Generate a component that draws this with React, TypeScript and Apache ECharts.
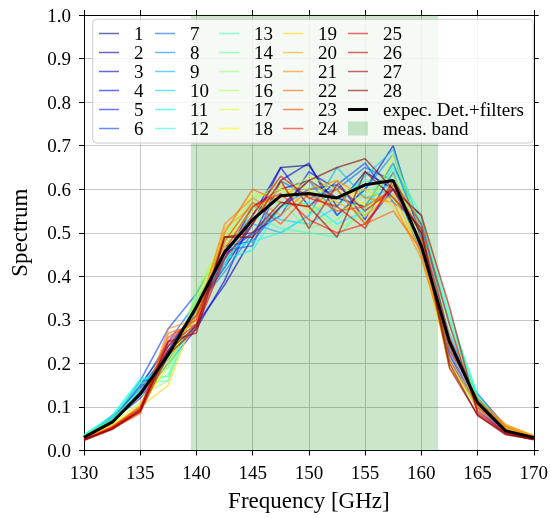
import React, { useEffect, useRef } from "react";
import * as echarts from "echarts";

const freqs = [130, 132.5, 135, 137.5, 140, 142.5, 145, 147.5, 150, 152.5, 155, 157.5, 160, 162.5, 165, 167.5, 170];

const expec = [0.030, 0.065, 0.130, 0.220, 0.330, 0.455, 0.530, 0.585, 0.590, 0.580, 0.610, 0.620, 0.470, 0.250, 0.110, 0.045, 0.030];

const s1 = [0.032, 0.075, 0.140, 0.230, 0.330, 0.420, 0.520, 0.650, 0.655, 0.560, 0.640, 0.600, 0.540, 0.250, 0.120, 0.050, 0.030];
const s2 = [0.030, 0.070, 0.150, 0.240, 0.320, 0.440, 0.560, 0.600, 0.620, 0.580, 0.560, 0.660, 0.500, 0.230, 0.130, 0.055, 0.030];
const s3 = [0.028, 0.080, 0.125, 0.210, 0.290, 0.380, 0.490, 0.620, 0.660, 0.540, 0.600, 0.700, 0.480, 0.220, 0.100, 0.045, 0.028];
const s4 = [0.030, 0.068, 0.120, 0.200, 0.280, 0.390, 0.540, 0.650, 0.560, 0.620, 0.530, 0.640, 0.460, 0.210, 0.095, 0.040, 0.030];
const s5 = [0.032, 0.060, 0.135, 0.225, 0.310, 0.450, 0.500, 0.540, 0.640, 0.600, 0.520, 0.600, 0.500, 0.240, 0.110, 0.050, 0.032];
const s6 = [0.030, 0.065, 0.160, 0.280, 0.360, 0.470, 0.480, 0.560, 0.600, 0.610, 0.660, 0.570, 0.520, 0.260, 0.120, 0.048, 0.030];
const s7 = [0.034, 0.070, 0.145, 0.250, 0.340, 0.460, 0.470, 0.620, 0.580, 0.600, 0.650, 0.620, 0.450, 0.230, 0.100, 0.045, 0.030];
const s8 = [0.030, 0.072, 0.130, 0.230, 0.330, 0.410, 0.500, 0.560, 0.620, 0.540, 0.600, 0.680, 0.490, 0.250, 0.105, 0.050, 0.030];
const s9 = [0.032, 0.075, 0.150, 0.210, 0.320, 0.430, 0.520, 0.500, 0.540, 0.650, 0.580, 0.600, 0.470, 0.270, 0.115, 0.045, 0.030];
const s10 = [0.035, 0.070, 0.140, 0.200, 0.350, 0.420, 0.560, 0.530, 0.520, 0.560, 0.630, 0.690, 0.510, 0.290, 0.120, 0.050, 0.030];
const s11 = [0.036, 0.078, 0.160, 0.190, 0.330, 0.440, 0.460, 0.560, 0.570, 0.520, 0.550, 0.650, 0.520, 0.300, 0.130, 0.048, 0.032];
const s12 = [0.036, 0.080, 0.165, 0.170, 0.310, 0.460, 0.480, 0.500, 0.540, 0.580, 0.620, 0.600, 0.530, 0.310, 0.125, 0.050, 0.030];
const s13 = [0.036, 0.074, 0.155, 0.160, 0.340, 0.450, 0.540, 0.510, 0.500, 0.490, 0.560, 0.660, 0.540, 0.320, 0.120, 0.055, 0.032];
const s14 = [0.034, 0.070, 0.140, 0.175, 0.360, 0.470, 0.560, 0.570, 0.510, 0.530, 0.590, 0.630, 0.520, 0.300, 0.110, 0.050, 0.030];
const s15 = [0.032, 0.066, 0.125, 0.160, 0.370, 0.480, 0.580, 0.600, 0.560, 0.510, 0.540, 0.620, 0.500, 0.280, 0.115, 0.045, 0.030];
const s16 = [0.030, 0.062, 0.110, 0.190, 0.350, 0.490, 0.570, 0.620, 0.600, 0.550, 0.570, 0.640, 0.480, 0.260, 0.100, 0.048, 0.032];
const s17 = [0.030, 0.060, 0.100, 0.210, 0.340, 0.500, 0.590, 0.580, 0.630, 0.600, 0.520, 0.680, 0.500, 0.200, 0.095, 0.050, 0.034];
const s18 = [0.028, 0.058, 0.095, 0.200, 0.330, 0.480, 0.550, 0.600, 0.580, 0.620, 0.560, 0.580, 0.470, 0.190, 0.100, 0.052, 0.033];
const s19 = [0.028, 0.056, 0.100, 0.150, 0.320, 0.470, 0.530, 0.610, 0.550, 0.580, 0.600, 0.560, 0.460, 0.200, 0.105, 0.055, 0.034];
const s20 = [0.027, 0.054, 0.105, 0.220, 0.310, 0.510, 0.560, 0.580, 0.620, 0.570, 0.540, 0.590, 0.450, 0.210, 0.110, 0.058, 0.035];
const s21 = [0.026, 0.052, 0.090, 0.280, 0.300, 0.520, 0.580, 0.540, 0.600, 0.620, 0.580, 0.570, 0.440, 0.230, 0.120, 0.060, 0.033];
const s22 = [0.026, 0.050, 0.085, 0.270, 0.290, 0.500, 0.600, 0.570, 0.560, 0.600, 0.520, 0.550, 0.460, 0.240, 0.115, 0.055, 0.030];
const s23 = [0.025, 0.055, 0.095, 0.260, 0.300, 0.480, 0.570, 0.520, 0.590, 0.550, 0.560, 0.600, 0.480, 0.250, 0.110, 0.050, 0.028];
const s24 = [0.025, 0.053, 0.100, 0.250, 0.310, 0.460, 0.560, 0.590, 0.530, 0.500, 0.520, 0.610, 0.500, 0.260, 0.100, 0.045, 0.027];
const s25 = [0.024, 0.052, 0.090, 0.240, 0.290, 0.450, 0.540, 0.630, 0.580, 0.560, 0.510, 0.620, 0.520, 0.290, 0.090, 0.040, 0.026];
const s26 = [0.024, 0.050, 0.088, 0.220, 0.280, 0.440, 0.520, 0.620, 0.510, 0.610, 0.550, 0.600, 0.540, 0.330, 0.085, 0.040, 0.025];
const s27 = [0.023, 0.048, 0.092, 0.250, 0.270, 0.490, 0.500, 0.570, 0.560, 0.490, 0.640, 0.580, 0.510, 0.200, 0.080, 0.038, 0.025];
const s28 = [0.025, 0.050, 0.095, 0.230, 0.285, 0.490, 0.490, 0.560, 0.620, 0.650, 0.670, 0.600, 0.500, 0.190, 0.082, 0.036, 0.026];

const detectors = [s1, s2, s3, s4, s5, s6, s7, s8, s9, s10, s11, s12, s13, s14, s15, s16, s17, s18, s19, s20, s21, s22, s23, s24, s25, s26, s27, s28];
const detectorNames = detectors.map((_, i) => String(i + 1));

const bandEdges = [139.5, 161.5];
const expecName = "expec. Det.+filters";
const bandName = "meas. band";

const xTicks = { min: 130, max: 170, interval: 5 };
const yTicks = { min: 0, max: 1, interval: 0.1 };

const FONT = "'Liberation Serif', 'DejaVu Serif', serif";

// jet colormap (style only)
function jet(t: number): [number, number, number] {
  const clamp = (v: number) => Math.max(0, Math.min(1, v));
  const r = clamp(Math.min(4 * t - 1.5, -4 * t + 4.5));
  const g = clamp(Math.min(4 * t - 0.5, -4 * t + 3.5));
  const b = clamp(Math.min(4 * t + 0.5, -4 * t + 2.5));
  return [Math.round(r * 255), Math.round(g * 255), Math.round(b * 255)];
}
function lineColor(i: number, n: number) {
  const [r, g, b] = jet(i / (n - 1));
  return `rgba(${r},${g},${b},0.6)`;
}

export default function App() {
  const ref = useRef<HTMLDivElement>(null);
  useEffect(() => {
    if (!ref.current) return;
    const chart = echarts.init(ref.current, undefined, { renderer: "svg" });
    const n = detectors.length;
    const colors = detectors.map((_, i) => lineColor(i, n));
    const bandColor = "rgba(0,128,0,0.2)";

    const lineIcon = "path://M0,0h40v3h-40z";
    const thickIcon = "path://M0,0h20v3h-20z";

    const legendItem = (name: string) => {
      if (name === expecName) return { name, icon: thickIcon, itemStyle: { color: "#000", borderWidth: 0 } };
      if (name === bandName) return { name, icon: "rect", itemStyle: { color: bandColor, borderWidth: 0 } };
      const idx = detectorNames.indexOf(name);
      return { name, icon: lineIcon, itemStyle: { color: colors[idx], borderWidth: 0 } };
    };

    const cols = [
      detectorNames.slice(0, 6),
      detectorNames.slice(6, 12),
      detectorNames.slice(12, 18),
      detectorNames.slice(18, 24),
      [...detectorNames.slice(24, 28), expecName, bandName],
    ];
    const colLeft = [99, 155, 219, 283, 348];

    const legends = cols.map((col, i) => ({
      left: colLeft[i],
      top: 24,
      orient: "vertical",
      padding: 0,
      itemGap: 0,
      itemWidth: 20,
      itemHeight: 14,
      selectedMode: false,
      z: 200,
      textStyle: { fontFamily: FONT, fontSize: 19, lineHeight: 18.7, color: "#000", padding: [0, 0, 0, 10] },
      data: col.map(legendItem),
    }));

    const axisLineStyle = { color: "#000", width: 1 };
    const gridLine = { show: true, lineStyle: { color: "#c6c6c6", width: 1 } };

    const series: any[] = [
      {
        name: bandName,
        type: "line",
        data: [],
        color: bandColor,
        silent: true,
        markArea: {
          silent: true,
          itemStyle: { color: bandColor },
          data: [[{ xAxis: bandEdges[0] }, { xAxis: bandEdges[1] }]],
        },
        z: 1,
      },
      ...detectors.map((d, i) => ({
        name: detectorNames[i],
        type: "line",
        data: freqs.map((f, j) => [f, d[j]]),
        showSymbol: false,
        symbol: "none",
        color: colors[i],
        lineStyle: { width: 1.6, color: colors[i] },
        z: 3,
      })),
      {
        name: expecName,
        type: "line",
        data: freqs.map((f, j) => [f, expec[j]]),
        showSymbol: false,
        symbol: "none",
        color: "#000",
        lineStyle: { width: 3, color: "#000" },
        z: 5,
      },
    ];

    chart.setOption({
      animation: false,
      grid: { left: 81, right: 13, top: 15, bottom: 67.5 },
      legend: legends,
      graphic: [
        {
          type: "rect",
          z: 100,
          shape: { x: 92.7, y: 19.3, width: 440.6, height: 123.7, r: 4 },
          style: { fill: "rgba(255,255,255,0.8)", stroke: "#cccccc", lineWidth: 1 },
        },
      ],
      xAxis: [
        {
          type: "value",
          ...xTicks,
          name: "Frequency [GHz]",
          nameLocation: "middle",
          nameGap: 38,
          nameTextStyle: { fontFamily: FONT, fontSize: 23, color: "#000", verticalAlign: "top" },
          axisLine: { show: true, onZero: false, lineStyle: axisLineStyle },
          axisTick: { show: true, inside: false, length: 5, lineStyle: axisLineStyle },
          axisLabel: { fontFamily: FONT, fontSize: 19, color: "#000", margin: 12 },
          splitLine: gridLine,
        },
        {
          type: "value",
          ...xTicks,
          position: "top",
          axisLine: { show: true, onZero: false, lineStyle: axisLineStyle },
          axisTick: { show: true, inside: false, length: 5, lineStyle: axisLineStyle },
          axisLabel: { show: false },
          splitLine: { show: false },
        },
      ],
      yAxis: [
        {
          type: "value",
          ...yTicks,
          name: "Spectrum",
          nameLocation: "middle",
          nameGap: 53,
          nameTextStyle: { fontFamily: FONT, fontSize: 23, color: "#000" },
          axisLine: { show: true, onZero: false, lineStyle: axisLineStyle },
          axisTick: { show: true, inside: false, length: 5, lineStyle: axisLineStyle },
          axisLabel: { fontFamily: FONT, fontSize: 19, color: "#000", margin: 13, formatter: (v: number) => v.toFixed(1) },
          splitLine: gridLine,
        },
        {
          type: "value",
          ...yTicks,
          position: "right",
          axisLine: { show: true, onZero: false, lineStyle: axisLineStyle },
          axisTick: { show: true, inside: false, length: 5, lineStyle: axisLineStyle },
          axisLabel: { show: false },
          splitLine: { show: false },
        },
      ],
      series,
    });
    return () => chart.dispose();
  }, []);
  return <div ref={ref} style={{ position: "fixed", left: 0, top: 0, width: 551, height: 518 }} />;
}
